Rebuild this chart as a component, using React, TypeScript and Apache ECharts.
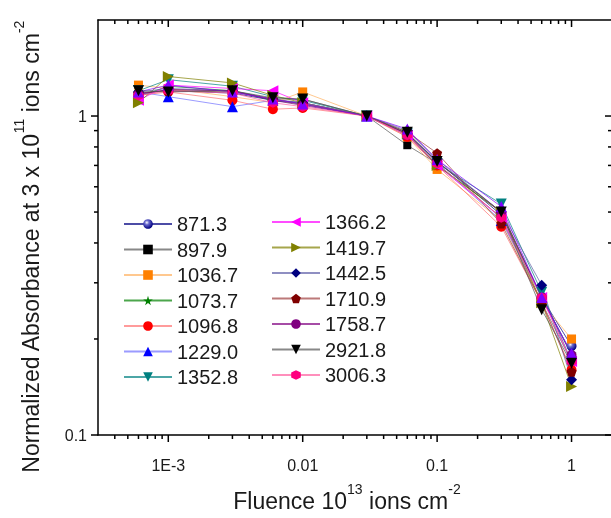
import React, { useEffect, useRef } from 'react';
import * as echarts from 'echarts';

const fluence = [0.0006, 0.001, 0.003, 0.006, 0.01, 0.03, 0.06, 0.1, 0.3, 0.6, 1];

const legendCol1 = ['871.3', '897.9', '1036.7', '1073.7', '1096.8', '1229.0', '1352.8'];
const legendCol2 = ['1366.2', '1419.7', '1442.5', '1710.9', '1758.7', '2921.8', '3006.3'];

const v871 = [1.18, 1.2, 1.18, 1.12, 1.1, 1, 0.88, 0.72, 0.49, 0.27, 0.19];
const v897 = [1.17, 1.21, 1.2, 1.13, 1.13, 1, 0.81, 0.71, 0.48, 0.26, 0.17];
const v1036 = [1.25, 1.22, 1.15, 1.1, 1.19, 1, 0.86, 0.68, 0.47, 0.26, 0.2];
const v1073 = [1.15, 1.24, 1.2, 1.12, 1.09, 1, 0.87, 0.7, 0.5, 0.27, 0.18];
const v1096 = [1.16, 1.19, 1.12, 1.05, 1.06, 1, 0.86, 0.7, 0.45, 0.26, 0.16];
const v1229 = [1.19, 1.15, 1.07, 1.12, 1.1, 1, 0.88, 0.71, 0.47, 0.27, 0.18];
const v1352 = [1.2, 1.3, 1.24, 1.15, 1.12, 1, 0.88, 0.71, 0.53, 0.28, 0.17];
const v1366 = [1.12, 1.25, 1.22, 1.2, 1.1, 1, 0.87, 0.7, 0.48, 0.27, 0.17];
const v1419 = [1.1, 1.33, 1.27, 1.16, 1.1, 1, 0.88, 0.7, 0.5, 0.26, 0.142];
const v1442 = [1.19, 1.22, 1.2, 1.13, 1.1, 1, 0.9, 0.73, 0.5, 0.295, 0.149];
const v1710 = [1.18, 1.2, 1.19, 1.13, 1.09, 1, 0.89, 0.765, 0.46, 0.26, 0.158];
const v1758 = [1.17, 1.21, 1.2, 1.12, 1.08, 1, 0.88, 0.72, 0.5, 0.27, 0.178];
const v2921 = [1.2, 1.19, 1.2, 1.14, 1.13, 1, 0.89, 0.72, 0.5, 0.247, 0.168];
const v3006 = [1.16, 1.2, 1.18, 1.1, 1.07, 1, 0.87, 0.71, 0.48, 0.27, 0.17];
const vViolet = [1.19, 1.25, 1.19, 1.13, 1.09, 1, 0.91, 0.73, 0.52, 0.27, 0.18];

const STAR = 'path://M50,0 L61,35 L98,35 L68,57 L79,91 L50,70 L21,91 L32,57 L2,35 L39,35 Z';
const PENTAGON = 'path://M50,0 L98,35 L79,91 L21,91 L2,35 Z';
const HEXAGON = 'path://M50,0 L93,25 L93,75 L50,100 L7,75 L7,25 Z';

const FONT = 'Liberation Sans, Arial, sans-serif';

const sphere = {
  type: 'radial', x: 0.38, y: 0.35, r: 0.65,
  colorStops: [{ offset: 0, color: '#ffffff' }, { offset: 0.35, color: '#6666cc' }, { offset: 1, color: '#000080' }],
};

type Def = { name: string; values: number[]; color: any; line: string; symbol: string; size: number; rotate?: number };

const defs: Def[] = [
  { name: '871.3', values: v871, color: sphere, line: '#000080', symbol: 'circle', size: 10 },
  { name: '897.9', values: v897, color: '#000000', line: '#555555', symbol: 'rect', size: 8 },
  { name: '1036.7', values: v1036, color: '#FF8000', line: '#FFB060', symbol: 'rect', size: 9 },
  { name: '1073.7', values: v1073, color: '#008000', line: '#008000', symbol: STAR, size: 10 },
  { name: '1096.8', values: v1096, color: '#FF0000', line: '#FF7070', symbol: 'circle', size: 10 },
  { name: '1229.0', values: v1229, color: '#0000FF', line: '#7070FF', symbol: 'triangle', size: 11 },
  { name: '1352.8', values: v1352, color: '#008080', line: '#008080', symbol: 'triangle', size: 11, rotate: 180 },
  { name: '1366.2', values: v1366, color: '#FF00FF', line: '#FF00FF', symbol: 'triangle', size: 11, rotate: 90 },
  { name: '1419.7', values: v1419, color: '#808000', line: '#808000', symbol: 'triangle', size: 11, rotate: -90 },
  { name: '1442.5', values: v1442, color: '#000080', line: '#6060A8', symbol: 'diamond', size: 11 },
  { name: '1710.9', values: v1710, color: '#800000', line: '#A04040', symbol: PENTAGON, size: 10 },
  { name: '1758.7', values: v1758, color: '#800080', line: '#800080', symbol: 'circle', size: 10 },
  { name: '3006.3', values: v3006, color: '#FF0080', line: '#FF60A0', symbol: HEXAGON, size: 10 },
  { name: 'violet', values: vViolet, color: '#8000FF', line: '#8000FF', symbol: 'triangle', size: 11 },
  { name: '2921.8', values: v2921, color: '#000000', line: '#555555', symbol: 'triangle', size: 11, rotate: 180 },
];

function isDecade(v: number) {
  const l = Math.log10(v);
  return Math.abs(l - Math.round(l)) < 1e-6;
}

export default function App() {
  const ref = useRef<HTMLDivElement>(null);
  useEffect(() => {
    const chart = echarts.init(ref.current!, undefined, { renderer: 'svg' });

    const xMin = 3e-4, xMax = 2, yMin = 0.1, yMax = 2;
    const tickData: number[][] = [];
    for (let d = -4; d <= 0; d++) {
      for (let m = 1; m <= 9; m++) {
        const v = m * Math.pow(10, d);
        if (v > xMin * 1.0001 && v < xMax * 0.9999) tickData.push([v, 1, 0, m === 1 ? 1 : 0]);
      }
    }
    for (let d = -1; d <= 0; d++) {
      for (let m = 1; m <= 9; m++) {
        const v = m * Math.pow(10, d);
        if (v >= yMin * 0.9999 && v < yMax * 0.9999) tickData.push([0.01, v, 1, m === 1 ? 1 : 0]);
      }
    }

    const lineSeries = defs.map((d) => ({
      name: d.name,
      type: 'line',
      xAxisIndex: 0,
      yAxisIndex: 0,
      data: fluence.map((x, i) => [x, d.values[i]]),
      symbol: d.symbol,
      symbolSize: d.size,
      symbolRotate: d.rotate || 0,
      showAllSymbol: true,
      itemStyle: { color: d.color, opacity: 1 },
      lineStyle: { color: d.line, width: 1, opacity: 0.7 },
      emphasis: { disabled: true },
      z: 3,
    }));

    const legendCommon = {
      orient: 'vertical',
      padding: 0,
      itemWidth: 48,
      itemHeight: 12,
      itemGap: 5.5,
      selectedMode: false,
      textStyle: { fontSize: 20, lineHeight: 20, fontFamily: FONT, color: '#1a1a1a' },
    };

    const titleRich = {
      a: { fontSize: 23, fontFamily: FONT, fill: '#1a1a1a', lineHeight: 30, verticalAlign: 'bottom' },
      s: { fontSize: 14, fontFamily: FONT, fill: '#1a1a1a', lineHeight: 30, verticalAlign: 'top' },
    };

    chart.setOption({
      animation: false,
      grid: { left: 98, top: 20, width: 514, height: 415, containLabel: false, outerBoundsMode: 'none' },
      legend: [
        { ...legendCommon, data: legendCol1, left: 123, top: 214 },
        { ...legendCommon, data: legendCol2, left: 271, top: 212 },
      ],
      xAxis: [
        {
          type: 'log', logBase: 10, min: xMin, max: xMax, position: 'bottom',
          axisLine: { show: true, lineStyle: { color: '#000', width: 1.5 } },
          axisTick: { show: false }, splitLine: { show: false }, minorTick: { show: false },
          axisLabel: {
            fontSize: 16, fontFamily: FONT, color: '#1a1a1a', margin: 22,
            formatter: (v: number) => {
              if (!isDecade(v)) return '';
              const r = Math.round(Math.log10(v));
              if (r === -3) return '1E-3';
              return String(Number(Math.pow(10, r).toFixed(6)));
            },
          },
        },
        {
          type: 'log', logBase: 10, min: xMin, max: xMax, position: 'top',
          axisLine: { show: true, lineStyle: { color: '#000', width: 1.5 } },
          axisTick: { show: false }, splitLine: { show: false }, axisLabel: { show: false },
        },
      ],
      yAxis: [
        {
          type: 'log', logBase: 10, min: yMin, max: yMax, position: 'left',
          axisLine: { show: true, lineStyle: { color: '#000', width: 1.5 } },
          axisTick: { show: false }, splitLine: { show: false }, minorTick: { show: false },
          axisLabel: {
            fontSize: 16, fontFamily: FONT, color: '#1a1a1a', margin: 11,
            formatter: (v: number) => {
              if (!isDecade(v)) return '';
              const r = Math.round(Math.log10(v));
              return String(Number(Math.pow(10, r).toFixed(6)));
            },
          },
        },
        {
          type: 'log', logBase: 10, min: yMin, max: yMax, position: 'right',
          axisLine: { show: true, lineStyle: { color: '#000', width: 1.5 } },
          axisTick: { show: false }, splitLine: { show: false }, axisLabel: { show: false },
        },
      ],
      series: [
        ...lineSeries,
        {
          type: 'custom',
          name: 'ticks',
          xAxisIndex: 0,
          yAxisIndex: 0,
          clip: false,
          silent: true,
          z: 5,
          data: tickData,
          renderItem: (params: any, api: any) => {
            const cs = params.coordSys;
            const kind = api.value(2);
            const major = api.value(3) === 1;
            const len = major ? 7 : 4;
            const st = { stroke: '#000', lineWidth: 1.5 };
            if (kind === 0) {
              const px = api.coord([api.value(0), 1])[0];
              const b = cs.y + cs.height;
              return {
                type: 'group',
                children: [
                  { type: 'line', shape: { x1: px, y1: b, x2: px, y2: b + len }, style: st },
                  { type: 'line', shape: { x1: px, y1: cs.y, x2: px, y2: cs.y + len }, style: st },
                ],
              };
            }
            const py = api.coord([0.01, api.value(1)])[1];
            const r = cs.x + cs.width;
            return {
              type: 'group',
              children: [
                { type: 'line', shape: { x1: cs.x, y1: py, x2: cs.x - len, y2: py }, style: st },
                { type: 'line', shape: { x1: r, y1: py, x2: r - len, y2: py }, style: st },
              ],
            };
          },
        },
      ],
      graphic: [
        {
          type: 'text',
          x: 347,
          y: 497,
          style: {
            text: '{a|Fluence 10}{s|13}{a| ions cm}{s|-2}',
            align: 'center',
            verticalAlign: 'middle',
            rich: titleRich,
          },
        },
        {
          type: 'text',
          x: 27,
          y: 247,
          rotation: Math.PI / 2,
          style: {
            text: '{a|Normalized Absorbance at 3 x 10}{s|11}{a| ions cm}{s|-2}',
            align: 'center',
            verticalAlign: 'middle',
            rich: titleRich,
          },
        },
      ],
    });
    return () => chart.dispose();
  }, []);
  return <div ref={ref} style={{ position: 'fixed', left: 0, top: 0, width: 611, height: 518 }} />;
}
